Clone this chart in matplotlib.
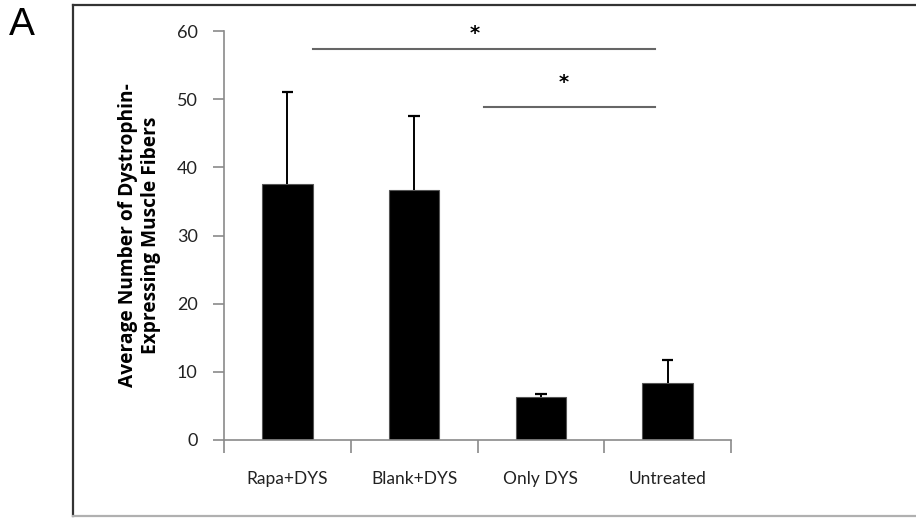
import matplotlib
matplotlib.use("Agg")
import matplotlib.pyplot as plt
from matplotlib.lines import Line2D

categories = ["Rapa+DYS", "Blank+DYS", "Only DYS", "Untreated"]
means = [37.5, 36.7, 6.3, 8.4]
errors = [13.6, 10.9, 0.5, 3.3]
yticks = [0, 10, 20, 30, 40, 50, 60]
# significance brackets: (x_start, x_end, y_level, star_x, star_y)
sig1 = (0.2, 2.9, 57.3, 1.48, 59.6)
sig2 = (1.55, 2.9, 48.9, 2.18, 52.4)

W, H = 916, 518
fig = plt.figure(figsize=(W / 100, H / 100), dpi=100)
font = "Lato"
axis_col = "#8a8a8a"

# Outer border box
fig.add_artist(Line2D([73 / W, 1.0], [1 - 5 / H, 1 - 5 / H], color="#333333", lw=1.6))
fig.add_artist(Line2D([73 / W, 73 / W], [1 - 5 / H, 1 - 516 / H], color="#333333", lw=1.6))
fig.add_artist(Line2D([73 / W, 1.0], [1 - 516 / H, 1 - 516 / H], color="#b0b0b0", lw=1.6))

fig.text(9 / W, 1 - 25 / H, "A", fontsize=28, family="Liberation Sans", va="center", ha="left")

ax = fig.add_axes([224 / W, 1 - 440 / H, (731 - 224) / W, (440 - 31) / H])
x = list(range(len(categories)))
ax.bar(x, means, width=0.4, color="black", edgecolor="#555555", linewidth=0.8, zorder=2)
# upper-only error bars
cap = 0.045
for xi, m, e in zip(x, means, errors):
    ax.plot([xi, xi], [m, m + e], color="black", lw=1.4, zorder=3, solid_capstyle="butt")
    ax.plot([xi - cap, xi + cap], [m + e, m + e], color="black", lw=1.6, zorder=3,
            solid_capstyle="butt")

ax.set_xlim(-0.5, 3.5)
ax.set_ylim(0, 60)
ax.set_yticks(yticks)
ax.set_yticklabels([str(v) for v in yticks], fontsize=13, family=font, color="#222222")
ax.set_xticks([-0.5, 0.5, 1.5, 2.5, 3.5])
ax.set_xticklabels([])
ax.set_xticks(x, minor=True)
ax.set_xticklabels(categories, minor=True, fontsize=12.5, family=font, color="#222222")
ax.tick_params(axis="x", which="minor", length=0, pad=22)
ax.tick_params(axis="x", which="major", length=9, color=axis_col, width=1.2, direction="out")
ax.tick_params(axis="y", length=8, color=axis_col, width=1.2, direction="out", pad=11)
for s in ["top", "right"]:
    ax.spines[s].set_visible(False)
for s in ["left", "bottom"]:
    ax.spines[s].set_color(axis_col)
    ax.spines[s].set_linewidth(1.2)

ax.set_ylabel("Average Number of Dystrophin-\nExpressing Muscle Fibers", fontsize=13.8,
              family="Open Sans", fontweight="bold", labelpad=11, linespacing=1.2)

for (x0, x1, yl, sx, sy) in [sig1, sig2]:
    ax.plot([x0, x1], [yl, yl], color="#666666", lw=1.5, clip_on=False, zorder=4)
    ax.text(sx, sy, "*", fontsize=14, fontweight="bold", ha="center", va="center",
            family="DejaVu Sans", clip_on=False)

fig.savefig("out.png", dpi=100)
